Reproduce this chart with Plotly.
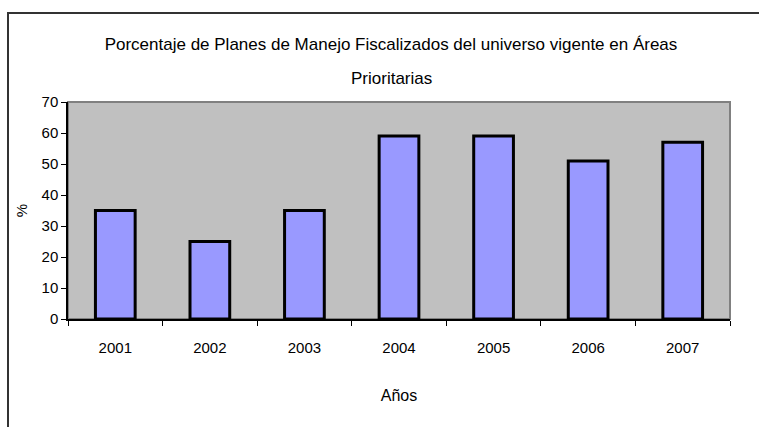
import plotly.graph_objects as go

years = ["2001", "2002", "2003", "2004", "2005", "2006", "2007"]
values = [35, 25, 35, 59, 59, 51, 57]
y_ticks = [0, 10, 20, 30, 40, 50, 60, 70]
title_line1 = "Porcentaje de Planes de Manejo Fiscalizados del universo vigente en Áreas"
title_line2 = "Prioritarias"

W, H = 759, 427
L, R, T, B = 68, 730, 102, 319
pw, ph = R - L, B - T

def px(x):
    return (x - L) / pw

def py(y):
    return (B - y) / ph

FONT = "Liberation Sans, Arial, sans-serif"

fig = go.Figure(go.Bar(
    x=years, y=values,
    width=0.42,
    marker=dict(color="#9999FF", line=dict(color="black", width=3)),
))

fig.update_layout(
    width=W, height=H,
    margin=dict(l=L, r=W - R, t=T, b=H - B, pad=0),
    paper_bgcolor="white",
    plot_bgcolor="#C0C0C0",
    showlegend=False,
    font=dict(family=FONT, size=15, color="black"),
    title=dict(
        text=title_line1,
        x=px(391), xanchor="center", xref="paper",
        y=1 - 44 / H, yanchor="middle",
        font=dict(family=FONT, size=17, color="black"),
    ),
    annotations=[
        dict(text=title_line2, xref="paper", yref="paper",
             x=px(391), y=py(78), xanchor="center", yanchor="middle",
             showarrow=False, font=dict(family=FONT, size=17, color="black")),
    ],
    xaxis=dict(
        type="category", showgrid=False, zeroline=False,
        showline=True, linecolor="black", linewidth=1.5,
        ticks="outside", ticklen=5, tickcolor="black", tickson="boundaries",
        tickfont=dict(size=15), ticklabelstandoff=14,
        title=dict(text="Años", font=dict(size=16), standoff=35),
    ),
    yaxis=dict(
        range=[0, 70], tickvals=y_ticks, showgrid=False, zeroline=False,
        showline=True, linecolor="black", linewidth=1.5,
        ticks="outside", ticklen=5, tickcolor="black",
        tickfont=dict(size=15),
        title=dict(text="%", font=dict(size=15), standoff=10),
    ),
    shapes=[
        dict(type="rect", xref="paper", yref="paper", x0=0, x1=1, y0=0, y1=1,
             line=dict(color="#808080", width=2), layer="below"),
        dict(type="rect", xref="paper", yref="paper",
             x0=px(8), x1=px(W + 10), y0=py(H + 10), y1=py(13),
             line=dict(color="#333333", width=2), fillcolor="rgba(0,0,0,0)"),
    ],
)

fig.write_html("out.html", config={"displayModeBar": False},
               post_script="document.body.style.margin='0px';")
